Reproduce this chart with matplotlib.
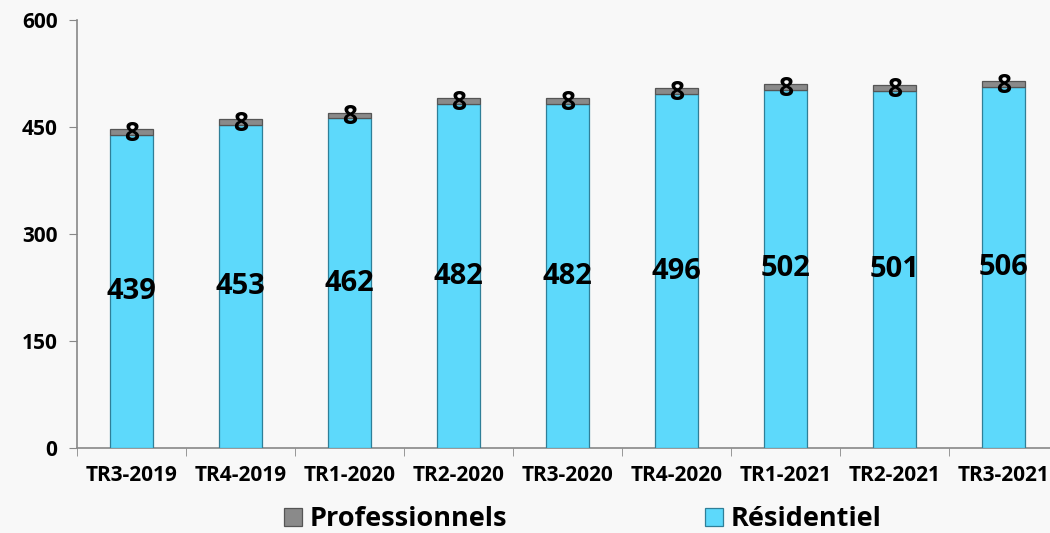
import matplotlib
matplotlib.use("Agg")
import matplotlib.pyplot as plt
import numpy as np

categories = ["TR3-2019", "TR4-2019", "TR1-2020", "TR2-2020", "TR3-2020",
              "TR4-2020", "TR1-2021", "TR2-2021", "TR3-2021"]
residentiel = [439, 453, 462, 482, 482, 496, 502, 501, 506]
professionnels = [8, 8, 8, 8, 8, 8, 8, 8, 8]
yticks = [0, 150, 300, 450, 600]

plt.rcParams['font.family'] = ['Open Sans', 'DejaVu Sans']

fig = plt.figure(figsize=(10.5, 5.33), dpi=100)
fig.patch.set_facecolor('#f8f8f8')
ax = fig.add_axes([77/1050, 85/533, 981/1050, 428/533])
ax.set_facecolor('none')

x = np.arange(len(categories))
w = 0.4
blue = '#5dd9fb'
gray = '#8a8a8a'
b1 = ax.bar(x, residentiel, w, color=blue, edgecolor='#2f7f98', linewidth=0.9,
            label='Résidentiel', zorder=3)
b2 = ax.bar(x, professionnels, w, bottom=residentiel, color=gray,
            edgecolor='#555555', linewidth=0.9, label='Professionnels', zorder=3)

for xi, r, p in zip(x, residentiel, professionnels):
    ax.text(xi, r / 2, str(r), ha='center', va='center', fontsize=21,
            fontweight='bold', color='black', zorder=5)
    ax.annotate(str(p), (xi, r + p), xytext=(0, -3), textcoords='offset points',
                ha='center', va='center', fontsize=19, fontweight='bold',
                color='black', zorder=5)

ax.set_xlim(-0.5, len(categories) - 0.5)
ax.set_ylim(0, 600)
ax.set_yticks(yticks)
ax.set_yticklabels([str(v) for v in yticks], fontsize=15, fontweight='bold')
ax.set_xticks(x)
ax.set_xticklabels(categories, fontsize=15, fontweight='bold')
ax.tick_params(axis='x', length=0, pad=12)
ax.set_xticks(np.arange(-0.5, len(categories), 1), minor=True)
ax.tick_params(axis='x', which='minor', length=6, color='#888888')
ax.tick_params(axis='y', length=6, color='#888888', pad=8)

for s in ['top', 'right']:
    ax.spines[s].set_visible(False)
ax.spines['left'].set_color('#888888')
ax.spines['bottom'].set_color('#888888')
ax.spines['left'].set_linewidth(1.2)
ax.spines['bottom'].set_linewidth(1.2)

leg = fig.legend(handles=[b2, b1], labels=['Professionnels', 'Résidentiel'],
                 loc='center', bbox_to_anchor=(0.555, 0.026), ncol=2,
                 frameon=False, prop={'size': 19.5, 'weight': 'bold'},
                 handlelength=0.65, handleheight=0.65, handletextpad=0.3,
                 columnspacing=7.3)

fig.savefig('out.png', dpi=100, facecolor=fig.get_facecolor())
